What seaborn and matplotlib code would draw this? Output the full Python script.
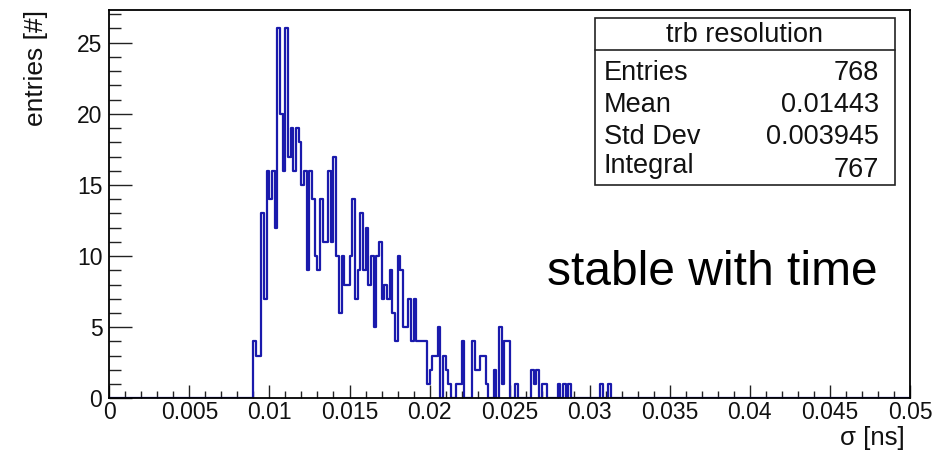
import numpy as np
import pandas as pd
import matplotlib
matplotlib.use("Agg")
import matplotlib.pyplot as plt
import seaborn as sns
from matplotlib.patches import Rectangle
from matplotlib.lines import Line2D
from matplotlib.ticker import MultipleLocator, FixedLocator, FixedFormatter

# ---------------- data ----------------
x_min, x_max, n_bins = 0.0, 0.05, 300
first_edge = 0.009
counts = [4, 3, 3, 13, 7, 16, 14, 16, 12, 26,
          20, 16, 26, 17, 19, 16, 19, 18, 15, 16,
          9, 16, 14, 10, 9, 14, 11, 11, 16, 11,
          17, 10, 6, 10, 8, 8, 10, 14, 7, 9,
          13, 9, 12, 8, 10, 5, 10, 11, 7, 8,
          7, 9, 6, 4, 10, 9, 5, 5, 7, 4,
          7, 4, 4, 4, 4, 1, 2, 3, 3, 5,
          0, 3, 2, 1, 0, 0, 1, 1, 4, 0,
          0, 0, 4, 2, 2, 3, 3, 1, 0, 0,
          2, 0, 5, 1, 4, 4, 0, 0, 1, 0,
          0, 0, 0, 0, 2, 1, 2, 0, 1, 1,
          0, 0, 0, 0, 1, 0, 1, 0, 1, 0,
          0, 0, 0, 0, 0, 0, 0, 0, 0, 0,
          1, 0, 0, 1]
x_ticks = [0, 0.005, 0.01, 0.015, 0.02, 0.025, 0.03, 0.035, 0.04, 0.045, 0.05]
x_tick_labels = ["0", "0.005", "0.01", "0.015", "0.02", "0.025", "0.03",
                 "0.035", "0.04", "0.045", "0.05"]
y_ticks = [0, 5, 10, 15, 20, 25]
y_tick_labels = ["0", "5", "10", "15", "20", "25"]
stats_title = "trb resolution"
stats_labels = ["Entries", "Mean", "Std Dev", "Integral"]
stats_values = ["768", "0.01443", "0.003945", "767"]
x_title = "σ [ns]"
y_title = "entries [#]"
note = "stable with time"

# ---------------- build ----------------
bin_width = (x_max - x_min) / n_bins
edges = [float(e) for e in np.linspace(x_min, x_max, n_bins + 1)]
centers = first_edge + (np.arange(len(counts)) + 0.5) * bin_width
df = pd.DataFrame({"sigma": centers, "entries": np.asarray(counts, dtype=float)})

sns.set_theme(style="white")
plt.rcParams["font.family"] = ["Liberation Sans", "DejaVu Sans"]

W, H = 950, 455
fig = plt.figure(figsize=(W / 100, H / 100), dpi=100)
L, R, T, B = 109.3, 910.0, 10.0, 398.4
ax = fig.add_axes([L / W, 1 - B / H, (R - L) / W, (B - T) / H])

sns.histplot(data=df, x="sigma", weights="entries", bins=edges,
             element="step", fill=False, color="#1a1aac", linewidth=1.6,
             ax=ax, zorder=2)

ax.set_xlim(x_min, x_max)
ax.set_ylim(0, 27.3)
ax.set_xlabel("")
ax.set_ylabel("")

ax.xaxis.set_major_locator(FixedLocator(x_ticks))
ax.xaxis.set_major_formatter(FixedFormatter(x_tick_labels))
ax.xaxis.set_minor_locator(MultipleLocator(0.001))
ax.yaxis.set_major_locator(FixedLocator(y_ticks))
ax.yaxis.set_major_formatter(FixedFormatter(y_tick_labels))
ax.yaxis.set_minor_locator(MultipleLocator(1))

ax.tick_params(axis="x", which="major", direction="in", length=9.4, width=1.0,
               color="#222222", labelsize=16.5, pad=2, bottom=True, top=False,
               labelcolor="#111111")
ax.tick_params(axis="x", which="minor", direction="in", length=5.0, width=1.0,
               color="#222222", bottom=True, top=False)
ax.tick_params(axis="y", which="major", direction="in", length=16.5, width=1.0,
               color="#222222", labelsize=16.5, pad=5, left=True, right=False,
               labelcolor="#111111")
ax.tick_params(axis="y", which="minor", direction="in", length=8.3, width=1.0,
               color="#222222", left=True, right=False)

for s in ax.spines.values():
    s.set_visible(True)
    s.set_color("black")
    s.set_linewidth(1.3)
    s.set_zorder(3)

def fx(px):
    return px / W

def fy(py):
    return 1 - py / H

# axis titles
fig.text(fx(36.5), fy(10), y_title, rotation=90, ha="center", va="top",
         fontsize=19, color="#111111")
fig.text(fx(905), fy(445), x_title, ha="right", va="baseline",
         fontsize=18.5, color="#111111")

# stats box
bx0, bx1, by0, by1 = 595, 895, 17.7, 185
fig.patches.append(Rectangle((fx(bx0), fy(by1)), (bx1 - bx0) / W, (by1 - by0) / H,
                             transform=fig.transFigure, facecolor="white",
                             edgecolor="#222222", linewidth=1.2, zorder=5))
fig.lines.append(Line2D([fx(bx0), fx(bx1)], [fy(50), fy(50)],
                        transform=fig.transFigure, color="#222222",
                        linewidth=1.2, zorder=6))
fig.text(fx((bx0 + bx1) / 2), fy(35), stats_title, ha="center", va="center",
         fontsize=19.5, color="#111111", zorder=7)
row_y = [70.3, 101.7, 133.5, 162.5]
val_y = [70.3, 101.7, 133.5, 167.0]
for lab, val, ly, vy in zip(stats_labels, stats_values, row_y, val_y):
    fig.text(fx(604), fy(ly), lab, ha="left", va="center_baseline",
             fontsize=19.5, color="#111111", zorder=7)
    fig.text(fx(879), fy(vy), val, ha="right", va="center_baseline",
             fontsize=19.5, color="#111111", zorder=7)

# annotation
fig.text(fx(547), fy(285), note, ha="left", va="baseline", fontsize=34.5,
         color="black")

fig.savefig("out.png", dpi=100)
